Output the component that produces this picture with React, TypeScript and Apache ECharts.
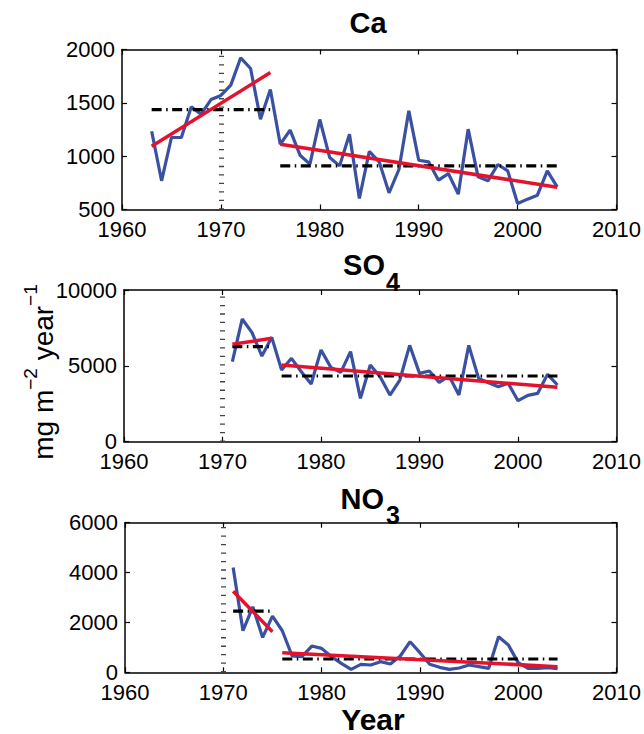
import React, { useEffect, useRef } from "react";
import * as echarts from "echarts";

// ---------- data ----------
const caStartYear = 1963;
const caValues = [
  1234, 769, 1175, 1175, 1462, 1394, 1531, 1569, 1666, 1922,
  1822, 1347, 1625, 1112, 1244, 1009, 925, 1344, 987, 909,
  1206, 603, 1044, 947, 656, 875, 1425, 962, 947, 775,
  837, 644, 1253, 806, 769, 922, 862, 556, 597, 634,
  862, 712,
];
const so4StartYear = 1971;
const so4Values = [
  5275, 8088, 7187, 5648, 6879, 4725, 5495, 4615, 3802, 6044,
  4901, 4571, 5934, 2857, 5055, 4286, 3077, 4066, 6352, 4505,
  4659, 3912, 4330, 3077, 6352, 4176, 3890, 3626, 3846, 2703,
  3055, 3187, 4440, 3736,
];
const no3StartYear = 1971;
const no3Values = [
  4200, 1667, 2627, 1400, 2253, 1667, 653, 627, 1053, 960,
  627, 360, 120, 320, 293, 427, 333, 653, 1227, 787,
  320, 200, 120, 173, 293, 227, 160, 1427, 1093, 387,
  160, 160, 187, 147,
];

// trend lines (red) and period means (black dash-dot): [year, value] end points
const caTrendEarly = [[1963, 1094], [1975, 1784]];
const caTrendLate = [[1976, 1112], [2004, 709]];
const caMeanEarly = [[1963, 1437], [1975, 1437]];
const caMeanLate = [[1976, 909], [2004, 909]];

const so4TrendEarly = [[1971, 6418], [1975, 6813]];
const so4TrendLate = [[1976, 5055], [2004, 3582]];
const so4MeanEarly = [[1971, 6264], [1975, 6264]];
const so4MeanLate = [[1976, 4330], [2004, 4330]];

const no3TrendEarly = [[1971, 3253], [1975, 1627]];
const no3TrendLate = [[1976, 787], [2004, 227]];
const no3MeanEarly = [[1971, 2453], [1975, 2453]];
const no3MeanLate = [[1976, 533], [2004, 533]];

const markerYear = 1970;
const xTicks = { min: 1960, max: 2010, interval: 10 };
const caY = { min: 500, max: 2000, interval: 500 };
const so4Y = { min: 0, max: 10000, interval: 5000 };
const no3Y = { min: 0, max: 6000, interval: 2000 };

const toPairs = (start: number, vals: number[]) => vals.map((v, i) => [start + i, v]);

// ---------- styling ----------
const FONT = "'Liberation Sans', Arial, Helvetica, sans-serif";
const BLUE = "#3a51a2";
const RED = "#e3132d";

const panels = [
  { grid: { left: 122, top: 49.5, width: 496.5, height: 160 }, y: caY, values: toPairs(caStartYear, caValues),
    tE: caTrendEarly, tL: caTrendLate, mE: caMeanEarly, mL: caMeanLate },
  { grid: { left: 124, top: 290, width: 494.5, height: 151.7 }, y: so4Y, values: toPairs(so4StartYear, so4Values),
    tE: so4TrendEarly, tL: so4TrendLate, mE: so4MeanEarly, mL: so4MeanLate },
  { grid: { left: 125, top: 522.7, width: 493.5, height: 149.6 }, y: no3Y, values: toPairs(no3StartYear, no3Values),
    tE: no3TrendEarly, tL: no3TrendLate, mE: no3MeanEarly, mL: no3MeanLate },
];

function buildOption() {
  const axisLine = { show: true, onZero: false, lineStyle: { color: "#000", width: 1.5 } };
  const axisTick = { show: true, inside: true, length: 5, lineStyle: { color: "#000", width: 1.2 } };
  const labelBase = { color: "#000", fontSize: 22, fontFamily: FONT, formatter: (v: number) => String(v) };
  const xAxis: any[] = [];
  const yAxis: any[] = [];
  const series: any[] = [];
  panels.forEach((p, i) => {
    xAxis.push({ type: "value", gridIndex: i, position: "bottom", ...xTicks, axisLine, axisTick,
      splitLine: { show: false }, axisLabel: { ...labelBase, margin: 9 } });
    xAxis.push({ type: "value", gridIndex: i, position: "top", ...xTicks, axisLine, axisTick,
      splitLine: { show: false }, axisLabel: { show: false } });
    yAxis.push({ type: "value", gridIndex: i, position: "left", ...p.y, axisLine, axisTick,
      splitLine: { show: false }, axisLabel: { ...labelBase, margin: 7 } });
    yAxis.push({ type: "value", gridIndex: i, position: "right", ...p.y, axisLine, axisTick,
      splitLine: { show: false }, axisLabel: { show: false } });
    const xi = 2 * i;
    const common = { type: "line", xAxisIndex: xi, yAxisIndex: xi, showSymbol: false, symbol: "none", silent: true };
    series.push({ ...common, data: p.values, lineStyle: { color: BLUE, width: 3.2 }, z: 2,
      markLine: { silent: true, symbol: ["none", "none"], label: { show: false },
        lineStyle: { color: "#444", width: 5, type: [1.3, 7.17] },
        data: [{ xAxis: markerYear }] } });
    [p.mE, p.mL].forEach((d) => series.push({ ...common, data: d, z: 3,
      lineStyle: { color: "#000", width: 3.2, type: [10, 4.5, 1.5, 4.5] } }));
    [p.tE, p.tL].forEach((d) => series.push({ ...common, data: d, z: 4,
      lineStyle: { color: RED, width: 3.5 } }));
  });

  const t = (text: string, x: number, y: number, size: number, align: string, weight = "bold") => ({
    type: "text", x, y, silent: true,
    style: { text, fill: "#000", font: `${weight} ${size}px ${FONT}`,
      align, textAlign: align, verticalAlign: "middle", textVerticalAlign: "middle" },
  });

  const graphic = [
    t("Ca", 368, 23, 29, "center"),
    t("SO", 385, 265, 29, "right"),
    t("4", 386, 282, 25, "left"),
    t("NO", 384, 499, 29, "right"),
    t("3", 386, 515, 25, "left"),
    t("Year", 373, 719, 30, "center"),
    {
      type: "text", x: 39, y: 372, rotation: Math.PI / 2, silent: true,
      style: {
        text: "{n|mg m}{p|−2}{n| year}{p|−1}",
        align: "center", textAlign: "center", verticalAlign: "middle", textVerticalAlign: "middle",
        fill: "#000",
        rich: {
          n: { fontSize: 28, fontFamily: FONT, lineHeight: 36, verticalAlign: "bottom" },
          p: { fontSize: 19, fontFamily: FONT, lineHeight: 19, verticalAlign: "top" },
        },
      },
    },
  ];

  return {
    animation: false,
    backgroundColor: "#fff",
    grid: panels.map((p) => ({ ...p.grid, containLabel: false })),
    xAxis, yAxis, series, graphic,
  };
}

export default function App() {
  const ref = useRef<HTMLDivElement>(null);
  useEffect(() => {
    document.body.style.margin = "0";
    const chart = echarts.init(ref.current!, undefined, { renderer: "svg" });
    chart.setOption(buildOption() as any);
    return () => chart.dispose();
  }, []);
  return <div ref={ref} style={{ width: 644, height: 734 }} />;
}
